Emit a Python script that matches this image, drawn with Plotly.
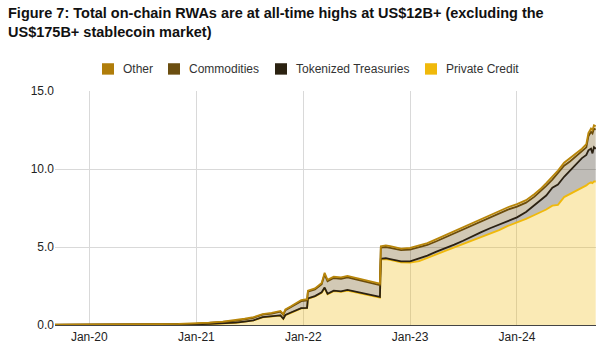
import plotly.graph_objects as go

dates = [
    "2019-09-06", "2019-11-01", "2020-01-01", "2020-03-01", "2020-05-01", "2020-07-01",
    "2020-09-01", "2020-11-01", "2021-01-01", "2021-02-15", "2021-04-01", "2021-05-15",
    "2021-06-15", "2021-07-15", "2021-08-15", "2021-09-15", "2021-10-15", "2021-10-25",
    "2021-11-01", "2021-11-20", "2021-12-10", "2021-12-25", "2022-01-14", "2022-01-17",
    "2022-02-10", "2022-03-05", "2022-03-15", "2022-03-25", "2022-04-15", "2022-05-10",
    "2022-06-01", "2022-06-25", "2022-07-20", "2022-08-15", "2022-09-10", "2022-09-20",
    "2022-09-23", "2022-10-10", "2022-10-25", "2022-11-10", "2022-12-01", "2023-01-01",
    "2023-02-01", "2023-03-01", "2023-04-01", "2023-05-01", "2023-06-01", "2023-07-01",
    "2023-08-01", "2023-09-01", "2023-10-01", "2023-11-01", "2023-12-01", "2024-01-01",
    "2024-02-01", "2024-03-01", "2024-03-20", "2024-04-10", "2024-05-01", "2024-05-20",
    "2024-06-10", "2024-07-01", "2024-07-20", "2024-08-10", "2024-08-25", "2024-09-01",
    "2024-09-10", "2024-09-15", "2024-09-20", "2024-09-26",
]

private_credit = [
    0.005, 0.005, 0.01, 0.01, 0.015, 0.02, 0.025, 0.03, 0.045, 0.065, 0.095, 0.14,
    0.21, 0.29, 0.49, 0.54, 0.61, 0.39, 0.63, 0.78, 0.93, 1.06, 1.08, 1.68,
    1.83, 2.07, 2.37, 1.97, 2.17, 2.12, 2.21, 2.11, 2.01, 1.91, 1.81, 1.76,
    4.21, 4.23, 4.17, 4.10, 4.02, 4.00, 4.10, 4.30, 4.55, 4.75, 4.98, 5.20,
    5.40, 5.65, 5.85, 6.08, 6.35, 6.55, 6.80, 7.05, 7.20, 7.40, 7.65, 7.70,
    8.20, 8.40, 8.60, 8.80, 8.95, 9.05, 9.15, 9.10, 9.20, 9.20,
]

tokenized_treasuries = [
    0.005, 0.005, 0.005, 0.005, 0.005, 0.005, 0.005, 0.005, 0.005, 0.005, 0.005, 0.01,
    0.01, 0.01, 0.01, 0.01, 0.01, 0.01, 0.01, 0.02, 0.02, 0.02, 0.02, 0.02,
    0.02, 0.03, 0.03, 0.03, 0.03, 0.03, 0.04, 0.04, 0.04, 0.04, 0.04, 0.04,
    0.04, 0.05, 0.05, 0.05, 0.06, 0.08, 0.15, 0.15, 0.15, 0.15, 0.17, 0.20,
    0.25, 0.30, 0.35, 0.37, 0.35, 0.35, 0.45, 0.65, 0.75, 0.90, 1.15, 1.30,
    1.30, 1.50, 1.70, 1.90, 1.95, 2.15, 2.15, 1.90, 2.20, 2.10,
]

commodities = [
    0.005, 0.005, 0.01, 0.01, 0.015, 0.02, 0.02, 0.025, 0.04, 0.06, 0.10, 0.12,
    0.15, 0.16, 0.16, 0.18, 0.23, 0.25, 0.31, 0.34, 0.44, 0.45, 0.48, 0.43,
    0.43, 0.52, 0.85, 0.81, 0.81, 0.81, 0.81, 0.81, 0.76, 0.76, 0.76, 0.76,
    0.71, 0.72, 0.73, 0.75, 0.72, 0.76, 0.73, 0.68, 0.67, 0.72, 0.71, 0.71,
    0.70, 0.70, 0.70, 0.70, 0.70, 0.69, 0.59, 0.53, 0.58, 0.62, 0.52, 0.71,
    0.71, 0.60, 0.50, 0.40, 0.49, 0.89, 1.08, 1.28, 1.18, 1.23,
]

other = [
    0.005, 0.005, 0.005, 0.005, 0.005, 0.005, 0.01, 0.01, 0.01, 0.02, 0.02, 0.03,
    0.03, 0.04, 0.04, 0.05, 0.05, 0.05, 0.05, 0.06, 0.06, 0.07, 0.07, 0.07,
    0.07, 0.08, 0.10, 0.09, 0.09, 0.09, 0.09, 0.09, 0.09, 0.09, 0.09, 0.09,
    0.09, 0.10, 0.10, 0.10, 0.10, 0.11, 0.12, 0.12, 0.13, 0.13, 0.14, 0.14,
    0.15, 0.15, 0.15, 0.15, 0.15, 0.16, 0.16, 0.17, 0.17, 0.18, 0.18, 0.19,
    0.19, 0.20, 0.20, 0.20, 0.21, 0.21, 0.22, 0.22, 0.22, 0.22,
]

series_names = ["Private Credit", "Tokenized Treasuries", "Commodities", "Other"]
legend_order = ["Other", "Commodities", "Tokenized Treasuries", "Private Credit"]
x_tick_vals = ["2020-01-01", "2021-01-01", "2022-01-01", "2023-01-01", "2024-01-01"]
x_tick_text = ["Jan-20", "Jan-21", "Jan-22", "Jan-23", "Jan-24"]
y_tick_vals = [0, 5, 10, 15]
title_text = ("<b>Figure 7: Total on-chain RWAs are at all-time highs at US$12B+ (excluding the"
              "<br>US$175B+ stablecoin market)</b>")

line_colors = {
    "Private Credit": "#F0B90B",
    "Tokenized Treasuries": "#2B2112",
    "Commodities": "#6B4C0B",
    "Other": "#B8860B",
}
fill_colors = {
    "Private Credit": "rgba(240,185,11,0.30)",
    "Tokenized Treasuries": "rgba(43,33,18,0.30)",
    "Commodities": "rgba(107,76,11,0.30)",
    "Other": "rgba(184,134,11,0.30)",
}
legend_colors = {
    "Other": "#B07D0A",
    "Commodities": "#6B4E10",
    "Tokenized Treasuries": "#2B2211",
    "Private Credit": "#F0B90B",
}

values = {
    "Private Credit": private_credit,
    "Tokenized Treasuries": tokenized_treasuries,
    "Commodities": commodities,
    "Other": other,
}

fig = go.Figure()
for name in series_names:
    fig.add_trace(go.Scatter(
        x=dates, y=values[name], name=name, mode="lines",
        stackgroup="rwa", line=dict(color=line_colors[name], width=1.8),
        fillcolor=fill_colors[name], showlegend=False,
    ))

# Manual legend (square swatches + labels) above the plot
W, H = 603, 351
L, R, T, B = 55, 7, 91, 24
pw, ph = W - L - R, H - T - B

def px_x(p):
    return (p - L) / pw

def px_y(p):
    return (H - B - p) / ph

legend_x = [102, 168, 275, 425]
for nm, lx in zip(legend_order, legend_x):
    fig.add_shape(type="rect", xref="paper", yref="paper",
                  x0=px_x(lx), x1=px_x(lx + 12), y0=px_y(74.5), y1=px_y(63),
                  fillcolor=legend_colors[nm], line=dict(width=0))
    fig.add_annotation(xref="paper", yref="paper", x=px_x(lx + 20), y=px_y(69),
                       text=nm, showarrow=False, xanchor="left", yanchor="middle",
                       xshift=-1,
                       font=dict(family="Liberation Sans, Arial", size=12, color="#333333"))

fig.add_annotation(xref="paper", yref="paper", x=px_x(6), y=px_y(2),
                   text=title_text, showarrow=False, xanchor="left", yanchor="top",
                   align="left",
                   font=dict(family="Liberation Sans, Arial", size=14.5, color="#111111"))

fig.update_layout(
    width=W, height=H,
    margin=dict(l=L, r=R, t=T, b=B),
    paper_bgcolor="white", plot_bgcolor="white",
    showlegend=False,
    xaxis=dict(
        range=["2019-09-06", "2024-09-27"], tickvals=x_tick_vals, ticktext=x_tick_text,
        showgrid=True, gridcolor="#D9D9D9", gridwidth=1,
        showline=True, linecolor="#444444", linewidth=1.2, ticks="",
        tickfont=dict(family="Liberation Sans, Arial", size=12, color="#222222"),
    ),
    yaxis=dict(
        range=[0, 15], tickvals=y_tick_vals, tickformat=".1f",
        showgrid=True, gridcolor="#D9D9D9", gridwidth=1, zeroline=False,
        ticks="", tickfont=dict(family="Liberation Sans, Arial", size=12, color="#222222"),
    ),
)

fig.write_html("out.html")
